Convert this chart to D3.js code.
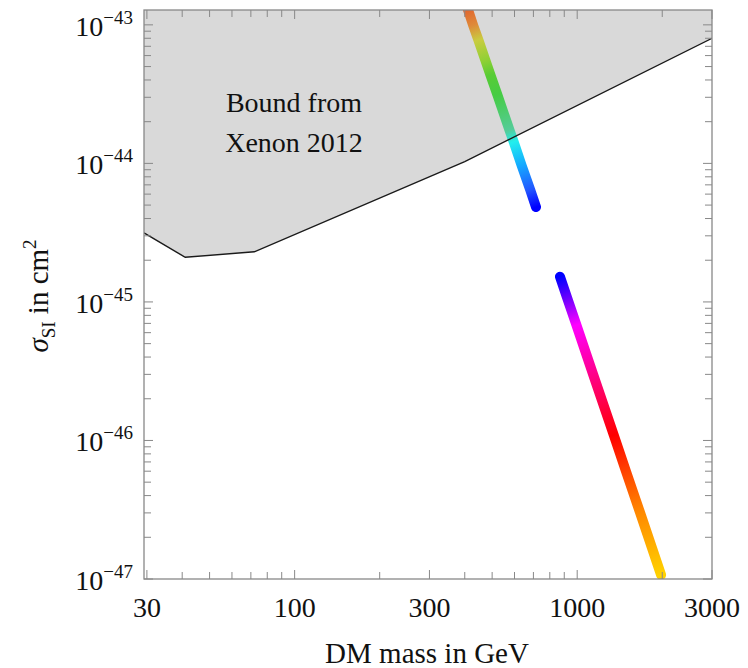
<!DOCTYPE html>
<html>
<head>
<meta charset="utf-8">
<script src="https://cdn.jsdelivr.net/npm/d3@7"></script>
<style>
  html, body { margin: 0; padding: 0; background: #fff; }
  svg { display: block; font-family: "Liberation Serif", "DejaVu Serif", serif; }
</style>
</head>
<body>
<svg id="chart" width="748" height="668"></svg>
<script>
// XENON100 (2012) exclusion limit on the spin-independent cross section
const xenonMass  = [29.3, 41, 72, 400, 3000];
const xenonSigma = [3.15e-45, 2.1e-45, 2.3e-45, 1.03e-44, 8.0e-44];

// Model predictions: two branches, coloured by a phase parameter (degrees)
const branchAMass  = [399, 411, 428, 447, 473, 493, 522, 576, 596, 635, 682, 715];
const branchASigma = [1.51e-43, 1.28e-43, 9.97e-44, 7.77e-44, 5.57e-44, 4.35e-44, 3.12e-44,
                      1.74e-44, 1.43e-44, 9.74e-45, 6.43e-45, 4.84e-45];
const branchAPhase = [10, 15, 30, 55, 80, 100, 120, 150, 180, 205, 225, 240];

const branchBMass  = [869, 922, 994, 1140, 1347, 1491, 1666, 1981];
const branchBSigma = [1.52e-45, 1.067e-45, 6.81e-46, 2.97e-46, 1.095e-46, 5.92e-47, 3.05e-47, 1.07e-47];
const branchBPhase = [240, 262, 300, 330, 360, 375, 390, 410];

// Axis ticks
const xMajor = [30, 100, 300, 1000, 3000];
const xMinor = [40, 50, 60, 70, 80, 90, 200, 400, 500, 600, 700, 800, 900, 2000];
const yMajorExp = [-47, -46, -45, -44, -43];

const annotation = ["Bound from", "Xenon 2012"];
const xTitle = "DM mass in GeV";

// ---- layout ----
const L = 144, R = 712, T = 10, B = 579;
const x = d3.scaleLog().domain([29.3, 3000]).range([L, R]);
const y = d3.scaleLog().domain([1e-47, 1.28e-43]).range([B, T]);

// phase -> colour (rainbow wheel, unwrapped past 360)
const phaseColor = d3.scaleLinear()
  .domain([10, 15, 30, 55, 80, 100, 120, 150, 180, 205, 225, 240, 262, 300, 330, 360, 375, 390, 410])
  .range(["#e5602a", "#e2682e", "#de8a3a", "#c9cc40", "#90d035", "#58cc35", "#46cc44", "#55cc99",
          "#22eeee", "#14aaff", "#2255ff", "#0000ff", "#6a00ff", "#ff00ff", "#ff0088", "#ff0000",
          "#ff4400", "#ff8800", "#ffd200"])
  .interpolate(d3.interpolateRgb);

const svg = d3.select("#chart");
const defs = svg.append("defs");
defs.append("clipPath").attr("id", "plotClip")
  .append("rect").attr("x", L).attr("y", T).attr("width", R - L).attr("height", B - T);

const plot = svg.append("g").attr("clip-path", "url(#plotClip)");

// excluded region (shaded above the limit)
const limitPts = xenonMass.map((m, i) => [x(m), y(xenonSigma[i])]);
const areaGen = d3.area().x(d => d[0]).y0(T).y1(d => d[1]);
plot.append("path").datum(limitPts).attr("d", areaGen).attr("fill", "#d9d9d9");

// coloured branches
function drawBranch(id, mass, sigma, phase) {
  const pts = mass.map((m, i) => [x(m), y(sigma[i])]);
  const p0 = pts[0], p1 = pts[pts.length - 1];
  const dx = p1[0] - p0[0], dy = p1[1] - p0[1], len2 = dx * dx + dy * dy;
  const grad = defs.append("linearGradient").attr("id", id)
    .attr("gradientUnits", "userSpaceOnUse")
    .attr("x1", p0[0]).attr("y1", p0[1]).attr("x2", p1[0]).attr("y2", p1[1]);
  pts.forEach((p, i) => {
    const t = ((p[0] - p0[0]) * dx + (p[1] - p0[1]) * dy) / len2;
    grad.append("stop").attr("offset", Math.max(0, Math.min(1, t)))
      .attr("stop-color", phaseColor(phase[i]));
  });
  plot.append("path").datum(pts)
    .attr("d", d3.line())
    .attr("fill", "none")
    .attr("stroke", `url(#${id})`)
    .attr("stroke-width", 10)
    .attr("stroke-linecap", "round")
    .attr("stroke-linejoin", "round");
}
drawBranch("gradA", branchAMass, branchASigma, branchAPhase);
drawBranch("gradB", branchBMass, branchBSigma, branchBPhase);

// limit curve
plot.append("path").datum(limitPts)
  .attr("d", d3.line())
  .attr("fill", "none").attr("stroke", "#1a1a1a").attr("stroke-width", 1.4);

// frame
const frameColor = "#888";
svg.append("rect").attr("x", L).attr("y", T).attr("width", R - L).attr("height", B - T)
  .attr("fill", "none").attr("stroke", frameColor).attr("stroke-width", 1.3);

// ticks on all four sides
const ticks = svg.append("g").attr("stroke", frameColor).attr("stroke-width", 1);
const xTicks = xMajor.map(v => ({ v, major: true })).concat(xMinor.map(v => ({ v, major: false })));
xTicks.forEach(t => {
  const len = t.major ? 9 : 7, px = x(t.v);
  ticks.append("line").attr("x1", px).attr("x2", px).attr("y1", B).attr("y2", B - len);
  ticks.append("line").attr("x1", px).attr("x2", px).attr("y1", T).attr("y2", T + len);
});
const yTicks = [];
yMajorExp.forEach(e => {
  yTicks.push({ v: Math.pow(10, e), major: true });
  if (e < -43) for (let k = 2; k <= 9; k++) yTicks.push({ v: k * Math.pow(10, e), major: false });
});
yTicks.filter(t => t.v <= y.domain()[1] && t.v >= y.domain()[0]).forEach(t => {
  const len = t.major ? 9 : 7, py = y(t.v);
  ticks.append("line").attr("y1", py).attr("y2", py).attr("x1", L).attr("x2", L + len);
  ticks.append("line").attr("y1", py).attr("y2", py).attr("x1", R).attr("x2", R - len);
});

// x tick labels
svg.append("g").selectAll("text").data(xMajor).join("text")
  .attr("x", d => x(d)).attr("y", 617)
  .attr("text-anchor", "middle").attr("font-size", 28).attr("fill", "#111")
  .text(d => d);

// y tick labels: 10^exp
const yl = svg.append("g").attr("fill", "#111");
yMajorExp.forEach(e => {
  const t = yl.append("text").attr("x", 133).attr("y", y(Math.pow(10, e)) + 11)
    .attr("text-anchor", "end").attr("font-size", 28);
  t.append("tspan").text("10");
  t.append("tspan").attr("font-size", 19).attr("dy", -12).text("\u2212" + Math.abs(e));
});

// x axis title
svg.append("text").attr("x", 427).attr("y", 663).attr("text-anchor", "middle")
  .attr("font-size", 29).attr("fill", "#111").text(xTitle);

// y axis title: sigma_SI in cm^2
const yt = svg.append("text").attr("transform", "translate(48,296) rotate(-90)")
  .attr("text-anchor", "middle").attr("font-size", 29).attr("fill", "#111");
yt.append("tspan").attr("font-style", "italic").text("\u03C3");
yt.append("tspan").attr("font-size", 19).attr("dy", 7).text("SI");
yt.append("tspan").attr("dy", -7).text(" in cm");
yt.append("tspan").attr("font-size", 19).attr("dy", -12).text("2");

// annotation inside the excluded region
svg.append("g").selectAll("text").data(annotation).join("text")
  .attr("x", 294).attr("y", (d, i) => 112 + i * 40)
  .attr("text-anchor", "middle").attr("font-size", 28).attr("fill", "#111")
  .text(d => d);
</script>
</body>
</html>
